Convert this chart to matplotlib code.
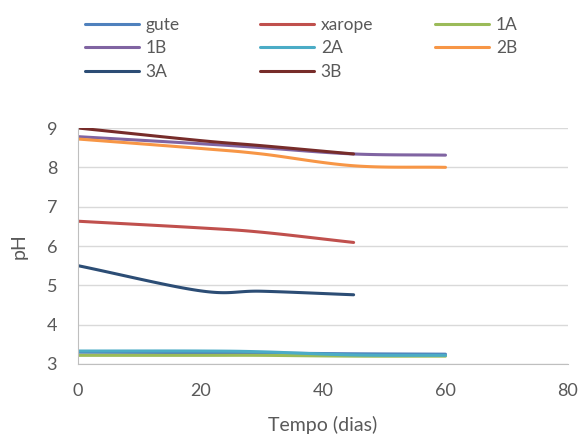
import numpy as np
import matplotlib
matplotlib.use("Agg")
import matplotlib.pyplot as plt

# Data
days_long = [0, 20, 30, 45, 60]
days_short = [0, 20, 30, 45]
series_names = ["gute", "xarope", "1A", "1B", "2A", "2B", "3A", "3B"]
gute = [3.30, 3.29, 3.28, 3.26, 3.25]
xarope = [6.63, 6.46, 6.35, 6.09]
s1A = [3.22, 3.22, 3.22, 3.20, 3.20]
s1B = [8.78, 8.60, 8.50, 8.34, 8.31]
s2A = [3.33, 3.33, 3.31, 3.23, 3.22]
s2B = [8.72, 8.48, 8.34, 8.04, 8.00]
s3A = [5.50, 4.86, 4.85, 4.76]
s3B = [9.00, 8.68, 8.55, 8.34]

colors = ["#4F81BD", "#C0504D", "#9BBB59", "#8064A2", "#4BACC6", "#F79646", "#2C4D75", "#772C2A"]

x_ticks = [0, 20, 40, 60, 80]
y_ticks = [3, 4, 5, 6, 7, 8, 9]


def smooth(x, y, n=30):
    """Catmull-Rom style smoothing for rendering (like Excel smoothed lines)."""
    x = np.asarray(x, float)
    y = np.asarray(y, float)
    xs, ys = [], []
    m = len(x)
    for i in range(m - 1):
        p0 = (x[i - 1], y[i - 1]) if i > 0 else (2 * x[i] - x[i + 1], 2 * y[i] - y[i + 1])
        p1 = (x[i], y[i])
        p2 = (x[i + 1], y[i + 1])
        p3 = (x[i + 2], y[i + 2]) if i + 2 < m else (2 * x[i + 1] - x[i], 2 * y[i + 1] - y[i])
        t = np.linspace(0, 1, n)
        for k in range(2):
            a0, a1, a2, a3 = p0[k], p1[k], p2[k], p3[k]
            c1 = a1 + (a2 - a0) / 6.0
            c2 = a2 - (a3 - a1) / 6.0
            v = (1 - t) ** 3 * a1 + 3 * (1 - t) ** 2 * t * c1 + 3 * (1 - t) * t ** 2 * c2 + t ** 3 * a2
            (xs if k == 0 else ys).append(v)
    return np.concatenate(xs), np.concatenate(ys)


plt.rcParams["font.family"] = ["Lato", "DejaVu Sans"]
fig = plt.figure(figsize=(5.81, 4.34), dpi=100)
ax = fig.add_axes([78 / 581, (434 - 364) / 434, 490 / 581, 236 / 434])

data = [(days_long, gute), (days_short, xarope), (days_long, s1A), (days_long, s1B),
        (days_long, s2A), (days_long, s2B), (days_short, s3A), (days_short, s3B)]
handles = []
for (xd, yd), name, c in zip(data, series_names, colors):
    sx, sy = smooth(xd, yd)
    h, = ax.plot(sx, sy, color=c, lw=2.2, label=name, solid_capstyle="round")
    handles.append(h)

ax.set_xlim(0, 80)
ax.set_ylim(3, 9)
ax.set_xticks(x_ticks)
ax.set_yticks(y_ticks)
ax.grid(axis="y", color="#D9D9D9", lw=1)
ax.set_axisbelow(True)
for s in ["top", "right"]:
    ax.spines[s].set_visible(False)
for s in ["left", "bottom"]:
    ax.spines[s].set_color("#BFBFBF")
ax.tick_params(length=0, labelsize=13, colors="#595959")
ax.tick_params(axis="x", pad=14)
ax.tick_params(axis="y", pad=15)
ax.set_xlabel("Tempo (dias)", fontsize=14, color="#595959", labelpad=12)
ax.set_ylabel("pH", fontsize=14, color="#595959", labelpad=14)

# Legend laid out in three columns (row-wise order like the original)
columns = [[0, 3, 6], [1, 4, 7], [2, 5]]
col_x = [85, 260, 435]
for idx, cx in zip(columns, col_x):
    leg = fig.legend([handles[i] for i in idx], [series_names[i] for i in idx],
                     loc="upper left", bbox_to_anchor=(cx / 581, 1 - 17 / 434),
                     frameon=False, fontsize=12.5, labelcolor="#595959",
                     handlelength=3.1, handletextpad=0.4,
                     labelspacing=0.42, borderaxespad=0, borderpad=0)

fig.savefig("out.png", dpi=100)
